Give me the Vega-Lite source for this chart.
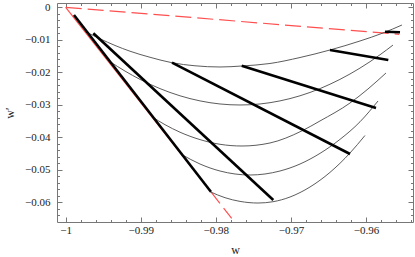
{
  "$schema": "https://vega.github.io/schema/vega-lite/v6.json",
  "width": 356,
  "height": 219,
  "autosize": {"type": "none"},
  "padding": {"left": 57, "top": 3, "right": 2, "bottom": 35},
  "background": "white",
  "config": {
    "view": {"stroke": "#777", "strokeWidth": 1},
    "axis": {"domain": false, "grid": false, "labelFont": "Liberation Serif", "titleFont": "Liberation Serif", "labelFontSize": 11, "titleFontSize": 12, "labelColor": "#222", "titleColor": "#222", "tickColor": "#777", "titleFontWeight": "normal"}
  },
  "data": {"values": [
    {"s": "redA", "g": "r", "x": -1, "y": 0},
    {"s": "redA", "g": "r", "x": -0.98078, "y": -0.05644},
    {"s": "redL", "g": "r", "x": -0.98078, "y": -0.05644},
    {"s": "redL", "g": "r", "x": -0.97789, "y": -0.06492},
    {"s": "redT", "g": "r", "x": -1, "y": 0},
    {"s": "redT", "g": "r", "x": -0.95557, "y": -0.00831},

    {"s": "c1", "g": "c", "x": -0.99730, "y": -0.00760},
    {"s": "c1", "g": "c", "x": -0.99543, "y": -0.00969},
    {"s": "c1", "g": "c", "x": -0.99343, "y": -0.01175},
    {"s": "c1", "g": "c", "x": -0.99144, "y": -0.01351},
    {"s": "c1", "g": "c", "x": -0.98877, "y": -0.01538},
    {"s": "c1", "g": "c", "x": -0.98584, "y": -0.01705},
    {"s": "c1", "g": "c", "x": -0.98278, "y": -0.01800},
    {"s": "c1", "g": "c", "x": -0.97945, "y": -0.01837},
    {"s": "c1", "g": "c", "x": -0.97652, "y": -0.01806},
    {"s": "c1", "g": "c", "x": -0.97279, "y": -0.01729},
    {"s": "c1", "g": "c", "x": -0.96879, "y": -0.01545},
    {"s": "c1", "g": "c", "x": -0.96480, "y": -0.01314},
    {"s": "c1", "g": "c", "x": -0.96080, "y": -0.01037},
    {"s": "c1", "g": "c", "x": -0.95774, "y": -0.00791},
    {"s": "c1", "g": "c", "x": -0.95521, "y": -0.00545},

    {"s": "c2", "g": "c", "x": -0.99410, "y": -0.01674},
    {"s": "c2", "g": "c", "x": -0.99210, "y": -0.01963},
    {"s": "c2", "g": "c", "x": -0.99010, "y": -0.02218},
    {"s": "c2", "g": "c", "x": -0.98744, "y": -0.02502},
    {"s": "c2", "g": "c", "x": -0.98478, "y": -0.02723},
    {"s": "c2", "g": "c", "x": -0.98211, "y": -0.02880},
    {"s": "c2", "g": "c", "x": -0.97945, "y": -0.02975},
    {"s": "c2", "g": "c", "x": -0.97678, "y": -0.03006},
    {"s": "c2", "g": "c", "x": -0.97412, "y": -0.02975},
    {"s": "c2", "g": "c", "x": -0.97146, "y": -0.02880},
    {"s": "c2", "g": "c", "x": -0.96879, "y": -0.02723},
    {"s": "c2", "g": "c", "x": -0.96613, "y": -0.02502},
    {"s": "c2", "g": "c", "x": -0.96347, "y": -0.02218},
    {"s": "c2", "g": "c", "x": -0.96080, "y": -0.01871},
    {"s": "c2", "g": "c", "x": -0.95814, "y": -0.01462},
    {"s": "c2", "g": "c", "x": -0.95641, "y": -0.01163},

    {"s": "c3", "g": "c", "x": -0.98851, "y": -0.03369},
    {"s": "c3", "g": "c", "x": -0.98677, "y": -0.03612},
    {"s": "c3", "g": "c", "x": -0.98478, "y": -0.03843},
    {"s": "c3", "g": "c", "x": -0.98211, "y": -0.04071},
    {"s": "c3", "g": "c", "x": -0.97945, "y": -0.04215},
    {"s": "c3", "g": "c", "x": -0.97652, "y": -0.04268},
    {"s": "c3", "g": "c", "x": -0.97279, "y": -0.04175},
    {"s": "c3", "g": "c", "x": -0.96857, "y": -0.03806},
    {"s": "c3", "g": "c", "x": -0.96613, "y": -0.03498},
    {"s": "c3", "g": "c", "x": -0.96213, "y": -0.02945},
    {"s": "c3", "g": "c", "x": -0.95974, "y": -0.02514},
    {"s": "c3", "g": "c", "x": -0.95734, "y": -0.02022},

    {"s": "c4", "g": "c", "x": -0.98455, "y": -0.04529},
    {"s": "c4", "g": "c", "x": -0.98211, "y": -0.04822},
    {"s": "c4", "g": "c", "x": -0.97945, "y": -0.05037},
    {"s": "c4", "g": "c", "x": -0.97545, "y": -0.05160},
    {"s": "c4", "g": "c", "x": -0.97146, "y": -0.05037},
    {"s": "c4", "g": "c", "x": -0.96879, "y": -0.04822},
    {"s": "c4", "g": "c", "x": -0.96613, "y": -0.04495},
    {"s": "c4", "g": "c", "x": -0.96347, "y": -0.04065},
    {"s": "c4", "g": "c", "x": -0.96080, "y": -0.03523},
    {"s": "c4", "g": "c", "x": -0.95840, "y": -0.02883},

    {"s": "c5", "g": "c", "x": -0.98078, "y": -0.05674},
    {"s": "c5", "g": "c", "x": -0.97878, "y": -0.05858},
    {"s": "c5", "g": "c", "x": -0.97678, "y": -0.05972},
    {"s": "c5", "g": "c", "x": -0.97439, "y": -0.06022},
    {"s": "c5", "g": "c", "x": -0.97239, "y": -0.05982},
    {"s": "c5", "g": "c", "x": -0.97012, "y": -0.05837},
    {"s": "c5", "g": "c", "x": -0.96746, "y": -0.05529},
    {"s": "c5", "g": "c", "x": -0.96480, "y": -0.05080},
    {"s": "c5", "g": "c", "x": -0.96213, "y": -0.04483},
    {"s": "c5", "g": "c", "x": -0.96014, "y": -0.03945},

    {"s": "A", "g": "t", "x": -0.99890, "y": -0.00237},
    {"s": "A", "g": "t", "x": -0.98066, "y": -0.05674},
    {"s": "B", "g": "t", "x": -0.99632, "y": -0.00800},
    {"s": "B", "g": "t", "x": -0.97235, "y": -0.05929},
    {"s": "C", "g": "t", "x": -0.98584, "y": -0.01705},
    {"s": "C", "g": "t", "x": -0.96213, "y": -0.04514},
    {"s": "D", "g": "t", "x": -0.97656, "y": -0.01797},
    {"s": "D", "g": "t", "x": -0.95867, "y": -0.03098},
    {"s": "E", "g": "t", "x": -0.96480, "y": -0.01314},
    {"s": "E", "g": "t", "x": -0.95703, "y": -0.01622},
    {"s": "F", "g": "t", "x": -0.95747, "y": -0.00751},
    {"s": "F", "g": "t", "x": -0.95547, "y": -0.00769}
  ]},
  "resolve": {"scale": {"x": "shared", "y": "shared"}, "axis": {"x": "independent", "y": "independent"}},
  "layer": [
    {
      "transform": [{"filter": "datum.s == 'redA'"}],
      "mark": {"type": "line", "color": "#ff5050", "strokeWidth": 1.2, "clip": true},
      "encoding": {
        "x": {"field": "x", "type": "quantitative", "scale": {"domain": [-1.00116, -0.95374], "nice": false, "zero": false},
              "axis": {"orient": "bottom", "values": [-1, -0.99, -0.98, -0.97, -0.96], "format": "~g", "tickSize": -5, "labelPadding": 7, "title": "w", "titlePadding": 9}},
        "y": {"field": "y", "type": "quantitative", "scale": {"domain": [-0.06606, 0.00132], "nice": false, "zero": false},
              "axis": {"orient": "left", "values": [0, -0.01, -0.02, -0.03, -0.04, -0.05, -0.06], "format": "~g", "tickSize": -5, "labelPadding": 12, "title": "w′", "titlePadding": 8}}
      }
    },
    {
      "transform": [{"filter": "datum.s == 'redT' || datum.s == 'redL'"}],
      "mark": {"type": "line", "color": "#ff5050", "strokeWidth": 1.2, "strokeDash": [16, 6], "clip": true},
      "encoding": {
        "x": {"field": "x", "type": "quantitative", "scale": {"domain": [-1.00116, -0.95374], "nice": false, "zero": false},
              "axis": {"orient": "top", "values": [-1, -0.99, -0.98, -0.97, -0.96], "labels": false, "tickSize": -5, "title": null}},
        "y": {"field": "y", "type": "quantitative", "scale": {"domain": [-0.06606, 0.00132], "nice": false, "zero": false},
              "axis": {"orient": "right", "values": [0, -0.01, -0.02, -0.03, -0.04, -0.05, -0.06], "labels": false, "tickSize": -5, "title": null}},
        "detail": {"field": "s"}
      }
    },
    {
      "transform": [{"filter": "datum.g == 'c'"}],
      "mark": {"type": "line", "color": "#4a4a4a", "strokeWidth": 0.9, "interpolate": "monotone", "clip": true},
      "encoding": {
        "x": {"field": "x", "type": "quantitative", "scale": {"domain": [-1.00116, -0.95374], "nice": false, "zero": false},
              "axis": {"orient": "bottom", "values": [-0.998, -0.996, -0.994, -0.992, -0.988, -0.986, -0.984, -0.982, -0.978, -0.976, -0.974, -0.972, -0.968, -0.966, -0.964, -0.962, -0.958, -0.956, -0.954], "labels": false, "tickSize": -2.5, "title": null}},
        "y": {"field": "y", "type": "quantitative", "scale": {"domain": [-0.06606, 0.00132], "nice": false, "zero": false},
              "axis": {"orient": "left", "values": [-0.002, -0.004, -0.006, -0.008, -0.012, -0.014, -0.016, -0.018, -0.022, -0.024, -0.026, -0.028, -0.032, -0.034, -0.036, -0.038, -0.042, -0.044, -0.046, -0.048, -0.052, -0.054, -0.056, -0.058, -0.062, -0.064], "labels": false, "tickSize": -2.5, "title": null}},
        "detail": {"field": "s"}
      }
    },
    {
      "transform": [{"filter": "datum.g == 't'"}],
      "mark": {"type": "line", "color": "#000000", "strokeWidth": 2.6, "clip": true},
      "encoding": {
        "x": {"field": "x", "type": "quantitative", "scale": {"domain": [-1.00116, -0.95374], "nice": false, "zero": false},
              "axis": {"orient": "top", "values": [-0.998, -0.996, -0.994, -0.992, -0.988, -0.986, -0.984, -0.982, -0.978, -0.976, -0.974, -0.972, -0.968, -0.966, -0.964, -0.962, -0.958, -0.956, -0.954], "labels": false, "tickSize": -2.5, "title": null}},
        "y": {"field": "y", "type": "quantitative", "scale": {"domain": [-0.06606, 0.00132], "nice": false, "zero": false},
              "axis": {"orient": "right", "values": [-0.002, -0.004, -0.006, -0.008, -0.012, -0.014, -0.016, -0.018, -0.022, -0.024, -0.026, -0.028, -0.032, -0.034, -0.036, -0.038, -0.042, -0.044, -0.046, -0.048, -0.052, -0.054, -0.056, -0.058, -0.062, -0.064], "labels": false, "tickSize": -2.5, "title": null}},
        "detail": {"field": "s"}
      }
    }
  ]
}
